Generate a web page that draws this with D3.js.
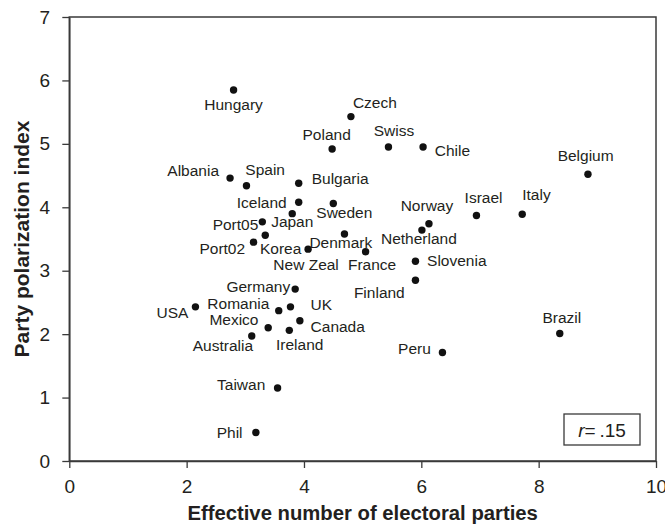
<!DOCTYPE html>
<html><head><meta charset="utf-8">
<script src="https://cdn.jsdelivr.net/npm/d3@7"></script>
<style>
body{margin:0;background:#fff;}
text{font-family:"Liberation Sans",Arial,sans-serif;fill:#231f20;}
</style></head>
<body><svg id="chart" width="665" height="528"></svg>
<script>
// ---- data ----
const countries = ["Hungary","Czech","Poland","Swiss","Chile","Belgium","Albania","Spain","Bulgaria","Iceland","Sweden","Japan","Port05","Port02","Korea","Denmark","New Zeal","France","Norway","Netherland","Israel","Italy","Slovenia","Finland","Germany","USA","Romania","UK","Mexico","Canada","Ireland","Australia","Brazil","Peru","Taiwan","Phil"];
const effParties = [2.80,4.80,4.48,5.44,6.03,8.84,2.74,3.02,3.91,3.91,4.50,3.80,3.29,3.14,3.34,4.69,4.07,5.05,6.13,6.01,6.94,7.72,5.90,5.90,3.85,2.15,3.57,3.77,3.39,3.93,3.75,3.11,8.36,6.36,3.55,3.18];
const polarization = [5.85,5.43,4.92,4.95,4.95,4.52,4.46,4.34,4.38,4.08,4.06,3.90,3.77,3.45,3.56,3.58,3.34,3.30,3.74,3.64,3.87,3.89,3.15,2.85,2.71,2.43,2.37,2.43,2.10,2.21,2.06,1.97,2.01,1.71,1.15,0.45];
const xTicks = [0,2,4,6,8,10];
const yTicks = [0,1,2,3,4,5,6,7];
const xTitle = "Effective number of electoral parties";
const yTitle = "Party polarization index";
const rLabel = ".15";

// ---- label layout (anchor, dx, dy in px relative to point) ----
const labelPos = {
  "Hungary":["middle",0,20],"Czech":["start",2,-9],"Poland":["middle",-5.5,-9.4],
  "Swiss":["middle",5.5,-11],"Chile":["start",11.7,8.7],"Belgium":["middle",-2.3,-13.3],
  "Albania":["end",-11,-2.3],"Spain":["middle",18.7,-10.7],"Bulgaria":["start",13,1.3],
  "Iceland":["end",-12,5.3],"Sweden":["middle",11,14.4],"Japan":["middle",0,13],
  "Port05":["end",-4,8.3],"Port02":["end",-8.4,11.7],"Korea":["start",-5.3,18.7],
  "Denmark":["middle",-3.6,14.3],"New Zeal":["middle",-2,21],"France":["middle",6.5,18.3],
  "Norway":["middle",-2,-12.7],"Netherland":["middle",-3,13.7],"Israel":["middle",7.1,-12.4],
  "Italy":["start",0,-14.3],"Slovenia":["start",11.6,4.7],"Finland":["end",-10.7,17.3],
  "Germany":["end",-5,2.4],"USA":["end",-7,11.6],"Romania":["end",-9.4,-1.4],
  "UK":["start",20,3.3],"Mexico":["end",-9.7,-3],"Canada":["start",10.7,11.3],
  "Ireland":["middle",10.4,19.7],"Australia":["end",1.3,15.4],"Brazil":["middle",2,-10.6],
  "Peru":["end",-11.6,1],"Taiwan":["end",-12.3,1.7],"Phil":["end",-13.3,5.6]
};

const W = 665, H = 528;
const m = {left:69.3, top:17, right:9, bottom:67};
const svg = d3.select("#chart");
const x = d3.scaleLinear().domain([0,10]).range([m.left, W-m.right]);
const y = d3.scaleLinear().domain([0,7]).range([H-m.bottom, m.top]);
const axisColor = "#3a3a3a";

// frame (top & right)
svg.append("rect").attr("x",x(0)).attr("y",y(7)).attr("width",x(10)-x(0)).attr("height",y(0)-y(7))
  .attr("fill","none").attr("stroke",axisColor).attr("stroke-width",1.5);

const gx = svg.append("g").attr("transform",`translate(0,${y(0)})`)
  .call(d3.axisBottom(x).tickValues(xTicks).tickFormat(d3.format("d")).tickSizeInner(7).tickSizeOuter(0).tickPadding(11.5));
const gy = svg.append("g").attr("transform",`translate(${x(0)},0)`)
  .call(d3.axisLeft(y).tickValues(yTicks).tickFormat(d3.format("d")).tickSizeInner(7).tickSizeOuter(0).tickPadding(12.3));
[gx,gy].forEach(g=>{
  g.select(".domain").attr("stroke",axisColor).attr("stroke-width",1.5);
  g.selectAll(".tick line").attr("stroke",axisColor).attr("stroke-width",1.3);
  g.selectAll(".tick text").attr("font-size",19).attr("font-family","'Liberation Sans',Arial,sans-serif").attr("fill","#231f20");
});

// axis titles
svg.append("text").attr("x",(x(0)+x(10))/2).attr("y",520).attr("text-anchor","middle")
  .attr("font-size",20.3).attr("font-weight","bold").text(xTitle);
svg.append("text").attr("transform",`translate(28.5,${(y(0)+y(7))/2}) rotate(-90)`).attr("text-anchor","middle")
  .attr("font-size",21).attr("font-weight","bold").text(yTitle);

// points
const data = countries.map((c,i)=>({c, xv:effParties[i], yv:polarization[i]}));
svg.append("g").selectAll("circle").data(data).join("circle")
  .attr("cx",d=>x(d.xv)).attr("cy",d=>y(d.yv)).attr("r",3.7).attr("fill","#111");
svg.append("g").selectAll("text").data(data).join("text")
  .attr("x",d=>x(d.xv)+labelPos[d.c][1]).attr("y",d=>y(d.yv)+labelPos[d.c][2])
  .attr("text-anchor",d=>labelPos[d.c][0]).attr("font-size",15.5).text(d=>d.c);

// r box
const bx1 = x(10)-16, by1 = y(0)-16, bw = 76, bh = 31;
svg.append("rect").attr("x",bx1-bw).attr("y",by1-bh).attr("width",bw).attr("height",bh)
  .attr("fill","#fff").attr("stroke",axisColor).attr("stroke-width",1.3);
const rt = svg.append("text").attr("x",bx1-bw/2).attr("y",by1-8).attr("text-anchor","middle").attr("font-size",19);
rt.append("tspan").attr("font-style","italic").text("r");
rt.append("tspan").text("=\u2009" + rLabel);
</script></body></html>
